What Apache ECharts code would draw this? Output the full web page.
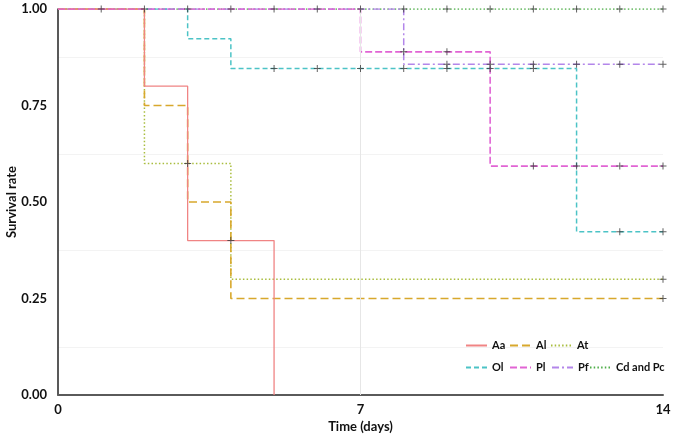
<!DOCTYPE html>
<html><head><meta charset="utf-8">
<script src="https://cdn.jsdelivr.net/npm/echarts@6/dist/echarts.min.js"></script>
<style>html,body{margin:0;padding:0;background:#fff}#c{width:697px;height:440px}</style>
</head><body><div id="c"></div>
<script>
// Kaplan-Meier step data: event times and survival after each step
const seriesNames = ['Aa','Al','At','Ol','Pl','Pf','Cd and Pc'];
const aaTimes = [0,2,3,5];        const aaSurv = [1,0.8,0.4,0];       const aaCensor = [4];
const alTimes = [0,2,3,4,14];     const alSurv = [1,0.75,0.5,0.25,0.25]; const alCensor = [14];
const atTimes = [0,2,4,14];       const atSurv = [1,0.6,0.3,0.3];     const atCensor = [3,14];
const olTimes = [0,3,4,12,14];    const olSurv = [1,0.923,0.846,0.423,0.423]; const olCensor = [5,6,7,8,9,10,11,13,14];
const plTimes = [0,7,10,14];      const plSurv = [1,0.889,0.593,0.593]; const plCensor = [8,9,11,12,13,14];
const pfTimes = [0,8,14];         const pfSurv = [1,0.857,0.857];     const pfCensor = [9,10,11,12,13,14];
const cdTimes = [0,14];           const cdSurv = [1,1];               const cdCensor = [1,2,3,4,5,6,7,8,9,10,11,12,13,14];
const xTicks = [0,7,14];
const yTicks = [0,0.25,0.5,0.75,1];

const groups = [
  {name:'Aa', t:aaTimes, s:aaSurv, c:aaCensor, color:'#f08484', type:'solid', w:1.3},
  {name:'Al', t:alTimes, s:alSurv, c:alCensor, color:'#d8a82c', type:[8,4], w:1.6},
  {name:'At', t:atTimes, s:atSurv, c:atCensor, color:'#a9bd3e', type:[1.5,2.2], w:1.5},
  {name:'Ol', t:olTimes, s:olSurv, c:olCensor, color:'#4cc3c6', type:[5,3], w:1.5},
  {name:'Pl', t:plTimes, s:plSurv, c:plCensor, color:'#e164d4', type:[7,3], w:1.6},
  {name:'Pf', t:pfTimes, s:pfSurv, c:pfCensor, color:'#b386ea', type:[7,3,2,3], w:1.5},
  {name:'Cd and Pc', t:cdTimes, s:cdSurv, c:cdCensor, color:'#4fae49', type:[1.5,2.2], w:1.5}
];
function survAt(g, x){ let v=1; for(let i=0;i<g.t.length;i++){ if(g.t[i]<=x) v=g.s[i]; } return v; }

const drawOrder = ['Cd and Pc','Pf','Ol','At','Al','Aa','Pl'];
const series = [];
drawOrder.forEach(n=>{
  const g = groups.find(q=>q.name===n);
  const s = {
    name:g.name, type:'line', step:'end', symbol:'none', showSymbol:false,
    data:g.t.map((t,i)=>[t,g.s[i]]),
    lineStyle:{color:g.color, width:g.w, type:g.type},
    itemStyle:{color:g.color}, animation:false, z:2
  };
  if(n==='Cd and Pc'){
    s.markLine = {silent:true, symbol:'none', label:{show:false}, animation:false,
      lineStyle:{color:'#e6e6e6', width:1, type:'solid'}, data:[{xAxis:7}]};
  }
  series.push(s);
});
const plus = 'path://M3,0 H4 V3 H7 V4 H4 V7 H3 V4 H0 V3 H3 Z';
groups.forEach(g=>{
  series.push({
    name:g.name+' censored', type:'scatter', symbol:plus, symbolSize:7,
    data:g.c.map(x=>[x, survAt(g,x)]),
    itemStyle:{color:'#3a3a3a'}, z:5, animation:false, silent:true
  });
});

const legPos = {
  'Aa':[465,340], 'Al':[509,340], 'At':[550,340],
  'Ol':[465,362], 'Pl':[509,362], 'Pf':[551,362], 'Cd and Pc':[589,362]
};
const legends = seriesNames.map(n=>({
  data:[n], left:legPos[n][0], top:legPos[n][1], itemWidth:21, itemHeight:12, itemGap:0,
  itemTextGap:4, selectedMode:false, padding:0,
  itemStyle:{color:'rgba(0,0,0,0)', borderWidth:0, borderColor:'rgba(0,0,0,0)', opacity:0},
  textStyle:{fontFamily:'Lato', fontWeight:'bold', fontSize:11, color:'#111'}
}));

const chart = echarts.init(document.getElementById('c'), null, {renderer:'canvas'});
chart.setOption({
  animation:false,
  backgroundColor:'#fff',
  legend: legends,
  grid:{left:58, right:34, top:9, bottom:45, containLabel:false, outerBoundsMode:'none'},
  xAxis:{type:'value', min:0, max:14, interval:7,
    name:'Time (days)', nameLocation:'middle', nameGap:25, nameMoveOverlap:false,
    nameTextStyle:{fontFamily:'Lato', fontWeight:'bold', fontSize:13, color:'#111'},
    axisLine:{show:true, lineStyle:{color:'#5a5a5a', width:2}},
    axisTick:{show:false}, splitLine:{show:false},
    axisLabel:{margin:8, fontFamily:'Lato', fontWeight:'bold', fontSize:13, color:'#111',
      formatter:v=>xTicks.includes(v)?String(v):''}},
  yAxis:{type:'value', min:0, max:1, interval:0.25,
    name:'Survival rate', nameLocation:'middle', nameGap:40, nameRotate:90, nameMoveOverlap:false,
    nameTextStyle:{fontFamily:'Lato', fontWeight:'bold', fontSize:13, color:'#111'},
    axisLine:{show:true, lineStyle:{color:'#222', width:1.5}},
    axisTick:{show:false}, splitLine:{show:false},
    minorTick:{show:false, splitNumber:2},
    minorSplitLine:{show:true, lineStyle:{color:'#f3f3f3', width:1}},
    axisLabel:{margin:11, fontFamily:'Lato', fontWeight:'bold', fontSize:13, color:'#111',
      formatter:v=>yTicks.includes(v)?v.toFixed(2):''}},
  series: series
});
</script></body></html>
